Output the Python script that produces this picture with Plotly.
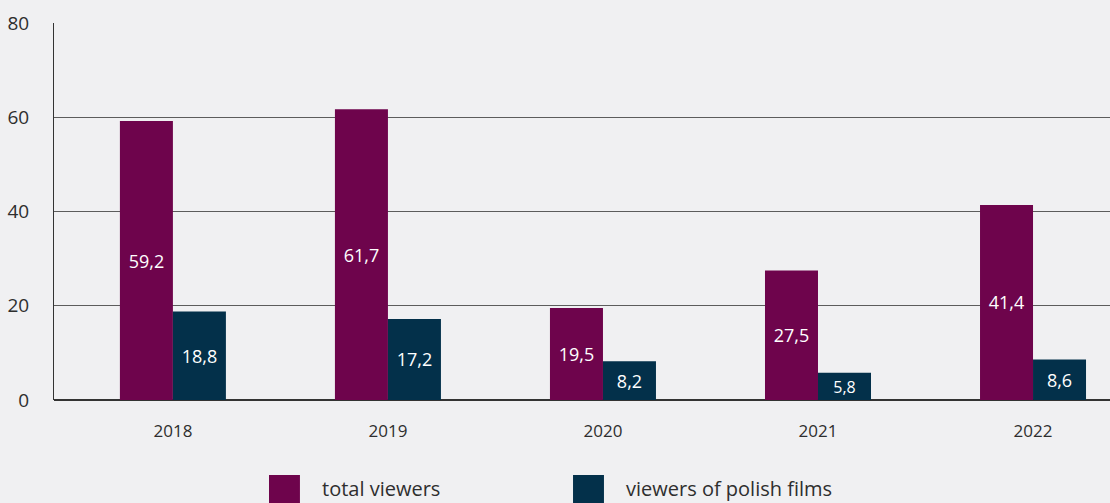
import plotly.graph_objects as go

years = ["2018", "2019", "2020", "2021", "2022"]
total_viewers = [59.2, 61.7, 19.5, 27.5, 41.4]
polish_viewers = [18.8, 17.2, 8.2, 5.8, 8.6]
y_ticks = [0, 20, 40, 60, 80]

series_names = ["total viewers", "viewers of polish films"]
series_colors = ["#6e044c", "#03304a"]

BG = "#f0f0f2"
FONT = "Open Sans, Noto Sans, sans-serif"
TEXT = "#2e2e2e"

fig = go.Figure()
for name, vals, color in zip(series_names, [total_viewers, polish_viewers], series_colors):
    fig.add_trace(go.Bar(
        x=years,
        y=vals,
        name=name,
        marker=dict(color=color, line=dict(width=0)),
        texttemplate="%{y:.1f}",
        textposition="inside",
        insidetextanchor="middle",
        textangle=0,
        textfont=dict(color="white", size=18, family=FONT),
        showlegend=False,
    ))

# legend: large square swatches with labels below the chart
legend_x = [0.2036, 0.4915]
for name, color, lx in zip(series_names, series_colors, legend_x):
    fig.add_shape(type="rect", xref="paper", yref="paper",
                  x0=lx, x1=lx + 0.0293, y0=-0.285, y1=-0.199,
                  fillcolor=color, line=dict(width=0), layer="above")
    fig.add_annotation(xref="paper", yref="paper", x=lx + 0.0485, y=-0.236,
                       text=name, showarrow=False, xanchor="left", yanchor="middle",
                       font=dict(size=20, color=TEXT, family=FONT))

fig.update_layout(
    width=1110, height=503,
    margin=dict(l=54, r=0, t=23, b=103),
    paper_bgcolor=BG, plot_bgcolor=BG,
    barmode="group", bargap=0.507, bargroupgap=0,
    separators=",.",
    font=dict(family=FONT, color=TEXT),
    xaxis=dict(
        type="category",
        range=[-0.553, 4.358],
        showgrid=False, zeroline=False, showline=False,
        ticks="", ticklabelstandoff=19,
        tickfont=dict(size=17, color=TEXT),
    ),
    yaxis=dict(
        range=[0, 80], tickvals=y_ticks,
        showgrid=True, gridcolor="#5c5c5c", gridwidth=1.3,
        zeroline=True, zerolinecolor="#333333", zerolinewidth=1.5,
        showline=True, linecolor="#333333", linewidth=1,
        ticks="", ticklabelstandoff=20,
        tickfont=dict(size=19, color=TEXT),
    ),
)

fig.write_html("out.html")
